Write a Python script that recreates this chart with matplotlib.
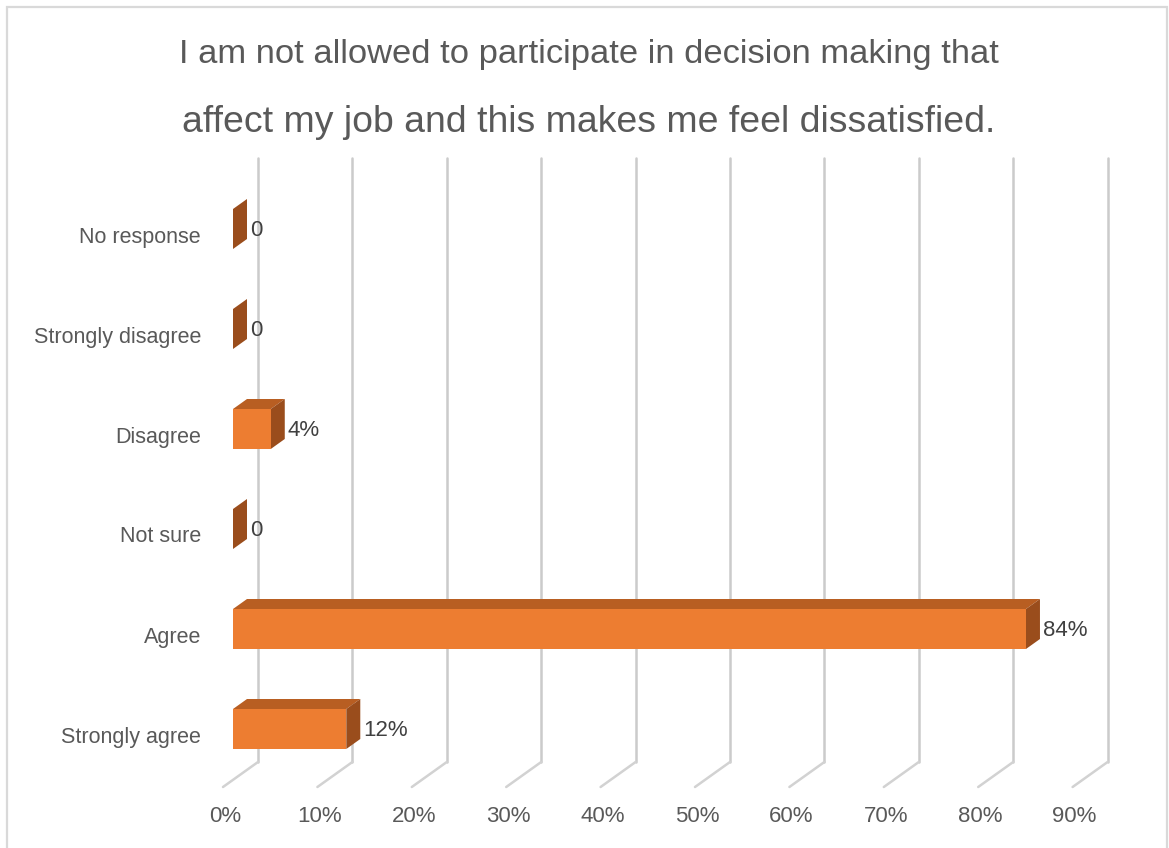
import matplotlib
matplotlib.use("Agg")
import matplotlib.pyplot as plt
from matplotlib.patches import Polygon, Rectangle

categories = ["Strongly agree", "Agree", "Not sure", "Disagree", "Strongly disagree", "No response"]
values = [12, 84, 0, 4, 0, 0]
value_labels = ["12%", "84%", "0", "4%", "0", "0"]
ticks = [0, 10, 20, 30, 40, 50, 60, 70, 80, 90]
tick_labels = ["0%", "10%", "20%", "30%", "40%", "50%", "60%", "70%", "80%", "90%"]
title_line1 = "I am not allowed to participate in decision making that"
title_line2 = "affect my job and this makes me feel dissatisfied."

W, H = 1169, 848
fig = plt.figure(figsize=(W / 100, H / 100), dpi=100)
fig.patch.set_facecolor("white")

# pixel geometry
PX_PER_PCT = 9.44
X0_PX = 233.0          # front plane, 0%
Y0_PX = 729.0          # front centre of first category
PX_PER_CAT = 100.0
ax = fig.add_axes([0, 0, 1, 1])
ax.set_xlim((0 - X0_PX) / PX_PER_PCT, (W - X0_PX) / PX_PER_PCT)
ax.set_ylim((Y0_PX - H) / PX_PER_CAT, (Y0_PX - 0) / PX_PER_CAT)
ax.axis("off")

def dx(px):
    return px / PX_PER_PCT

def dy(px):
    return px / PX_PER_CAT

def ypx(py):
    return (Y0_PX - py) / PX_PER_CAT

def xpx(px):
    return (px - X0_PX) / PX_PER_PCT

# border
fig.add_artist(Rectangle((7 / W, -0.01), (1167 - 7) / W, (H - 7) / H + 0.01,
                         transform=fig.transFigure, fill=False,
                         edgecolor="#D9D9D9", lw=1.6))

# gridlines (back wall) + floor diagonals
grid_top, grid_bot = ypx(158), ypx(762)
back_off = dx(25)
floor_dx, floor_dy = dx(35), dy(25)
for t in ticks:
    xb = t + back_off
    ax.plot([xb, xb], [grid_bot, grid_top], color="#CBCBCB", lw=1.8,
            solid_capstyle="round", zorder=1)
    ax.plot([xb, xb - floor_dx], [grid_bot, grid_bot - floor_dy], color="#D2D2D2",
            lw=1.8, solid_capstyle="round", zorder=1)

font = "Liberation Sans"
for t, lab in zip(ticks, tick_labels):
    ax.text(t - dx(8), ypx(816), lab, ha="center", va="center",
            fontsize=16, color="#595959", family=font)

# bars
half = dy(20)
bdx, bdy = dx(14), dy(10)
front_c = "#ED7D31"
top_c = "#B85E22"
side_c = "#9A4D1C"
for i, (cat, v, vl) in enumerate(zip(categories, values, value_labels)):
    yb, yt = i - half, i + half
    if v > 0:
        ax.add_patch(Polygon([(0, yt), (v, yt), (v + bdx, yt + bdy), (bdx, yt + bdy)],
                             closed=True, facecolor=top_c, edgecolor="none", zorder=3))
        ax.add_patch(Rectangle((0, yb), v, yt - yb, facecolor=front_c,
                               edgecolor="none", zorder=4))
    ax.add_patch(Polygon([(v, yb), (v, yt), (v + bdx, yt + bdy), (v + bdx, yb + bdy)],
                         closed=True, facecolor=side_c, edgecolor="none", zorder=3))
    ax.text(v + bdx + dx(3), i - dy(1), vl, ha="left", va="center",
            fontsize=16, color="#404040", family=font, zorder=5)
    ax.text(xpx(201), i - dy(8), cat, ha="right", va="center",
            fontsize=15.5, color="#595959", family=font)

# title
fig.text(589 / W, 1 - 63 / H, title_line1, ha="center", va="baseline",
         fontsize=24.8, color="#595959", family=font)
fig.text(589 / W, 1 - 132 / H, title_line2, ha="center", va="baseline",
         fontsize=26.9, color="#595959", family=font)

fig.savefig("out.png", dpi=100, facecolor="white")
